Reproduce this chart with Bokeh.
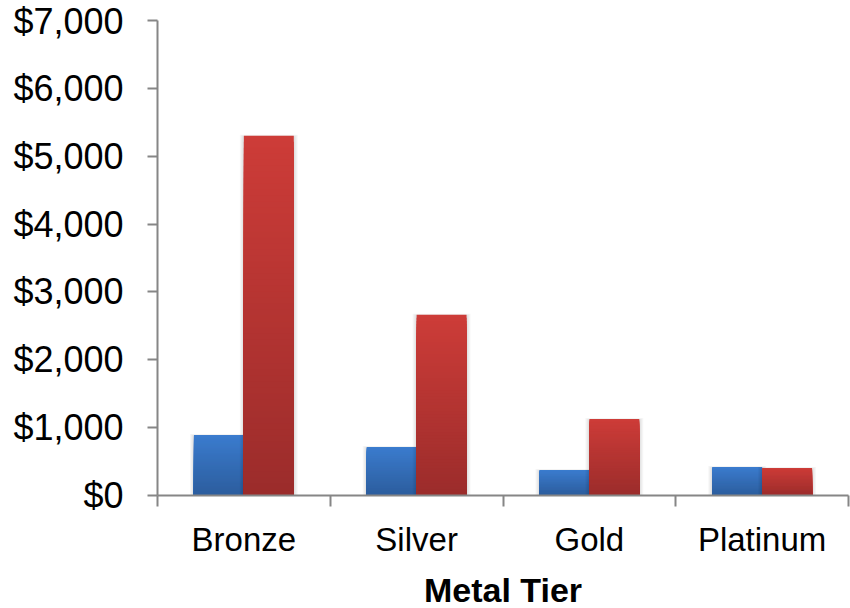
from bokeh.plotting import figure
from bokeh.models import Range1d, FixedTicker, NumeralTickFormatter
from bokeh.embed import file_html
from bokeh.resources import INLINE

categories = ["Bronze", "Silver", "Gold", "Platinum"]
blue_values = [890, 715, 376, 420]
red_values = [5300, 2662, 1128, 405]
y_ticks = [0, 1000, 2000, 3000, 4000, 5000, 6000, 7000]
x_label = "Metal Tier"

BLUE_TOP, BLUE_BOT = (0x3B, 0x7C, 0xCE), (0x2C, 0x5D, 0x9D)
RED_TOP, RED_BOT = (0xCD, 0x3C, 0x38), (0x9B, 0x2C, 0x2B)
AXIS_COLOR = "#868686"
FONT = "Liberation Sans"

p = figure(frame_width=691, frame_height=475, x_range=Range1d(0, 4), y_range=Range1d(0, 7000),
           output_backend="svg", toolbar_location=None,
           min_border_left=157, min_border_right=2, min_border_top=20, min_border_bottom=113)
p.outline_line_color = None
p.xgrid.visible = False
p.ygrid.visible = False
p.background_fill_color = "white"
p.border_fill_color = "white"

bar_w = 0.289
px_x = 1 / 172.75
px_y = 1000 / 67.8


def mix(a, b, t):
    return "#%02x%02x%02x" % tuple(int(round(a[i] * (1 - t) + b[i] * t)) for i in range(3))


def draw_bars(values, offset, top_c, bot_c):
    lefts = [i + 0.5 + offset for i in range(len(values))]
    rights = [l + bar_w for l in lefts]
    # soft shadow
    for j in range(1, 5):
        p.quad(left=[l - j * px_x for l in lefts], right=[r + j * px_x for r in rights],
               bottom=[0] * len(values), top=[v + (j * 0.5 - 1) * px_y for v in values],
               fill_color="black", fill_alpha=0.03, line_color=None)
    N = 60
    for k in range(N, 0, -1):
        t = (k - 0.5) / N
        p.quad(left=lefts, right=rights, bottom=[0] * len(values),
               top=[v * k / N for v in values],
               fill_color=mix(bot_c, top_c, t), line_color=None)


draw_bars(blue_values, -bar_w, BLUE_TOP, BLUE_BOT)
draw_bars(red_values, 0.0, RED_TOP, RED_BOT)

# x axis
xa = p.xaxis[0]
xa.ticker = FixedTicker(ticks=[i + 0.5 for i in range(len(categories))],
                        minor_ticks=list(range(len(categories) + 1)))
xa.major_label_overrides = {i + 0.5: c for i, c in enumerate(categories)}
xa.major_tick_line_color = None
xa.major_tick_out = 11
xa.major_tick_in = 0
xa.minor_tick_line_color = AXIS_COLOR
xa.minor_tick_line_width = 2
xa.minor_tick_out = 11
xa.minor_tick_in = 0
xa.axis_line_color = AXIS_COLOR
xa.axis_line_width = 2
xa.major_label_text_font = FONT
xa.major_label_text_font_size = "33px"
xa.major_label_text_color = "black"
xa.major_label_standoff = 14
xa.axis_label = x_label
xa.axis_label_text_font = FONT
xa.axis_label_text_font_size = "34px"
xa.axis_label_text_font_style = "bold"
xa.axis_label_text_color = "black"
xa.axis_label_standoff = 10

# y axis
ya = p.yaxis[0]
ya.ticker = FixedTicker(ticks=y_ticks, minor_ticks=[])
ya.formatter = NumeralTickFormatter(format="$0,0")
ya.axis_line_color = AXIS_COLOR
ya.axis_line_width = 2
ya.major_tick_line_color = AXIS_COLOR
ya.major_tick_line_width = 2
ya.major_tick_out = 10
ya.major_tick_in = 0
ya.minor_tick_line_color = None
ya.major_label_text_font = FONT
ya.major_label_text_font_size = "36px"
ya.major_label_text_color = "black"
ya.major_label_standoff = 24

open("out.html", "w").write(file_html(p, INLINE))
